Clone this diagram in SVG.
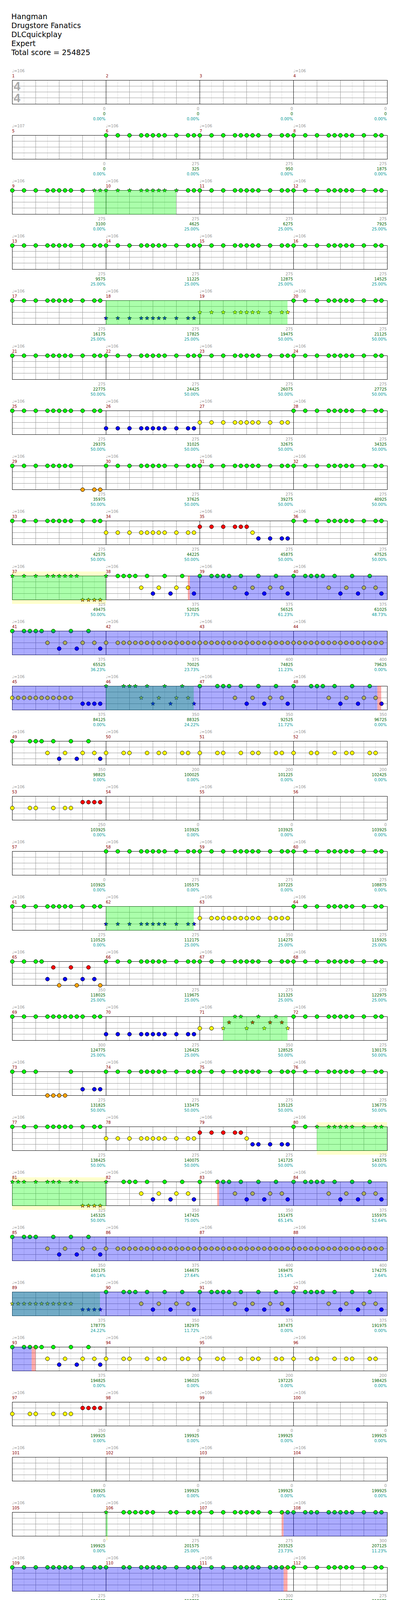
<svg xmlns="http://www.w3.org/2000/svg" width="1024" height="4858" viewBox="0 0 1024 4858">
<style>
text{font-family:"DejaVu Sans","Liberation Sans",sans-serif}
.h{font-size:19px;fill:#000}
.tp{font-size:10px;fill:#999}
.mn{font-size:10px;fill:#8b0000}
.s1,.s2,.s3{font-size:10px;text-anchor:end}
.s1{fill:#999}.s2{fill:#006400}.s3{fill:#009999}
.ts{font-family:"Liberation Sans",sans-serif;font-weight:bold;font-size:31px;fill:#aaa}
circle{stroke:#000;stroke-width:1}
.stp{stroke:#000;stroke-width:0.8}
.g{fill:#00ff00}.r{fill:#ff0000}.y{fill:#ffff00}.b{fill:#0000ff}.o{fill:#ffa500}
.lt{stroke:#ddd;fill:none}
.gr{stroke:#999;fill:none}
.bk{stroke:#000;fill:none}
.sp{fill:#00ff00;fill-opacity:.33}
.act{fill:#0000ff;fill-opacity:.33}
.pk{fill:#ff0000;fill-opacity:.33}
.yl{fill:#ffffcc}
</style>
<defs>
<g id="grid4">
<rect width="960" height="61" fill="#fff"/>
<path class="lt" d="M30,0V61M90,0V61M150,0V61M210,0V61M270,0V61M330,0V61M390,0V61M450,0V61M510,0V61M570,0V61M630,0V61M690,0V61M750,0V61M810,0V61M870,0V61M930,0V61"/>
<path class="gr" d="M0,15H960M0,30H960M0,45H960M60,0V61M120,0V61M180,0V61M300,0V61M360,0V61M420,0V61M540,0V61M600,0V61M660,0V61M780,0V61M840,0V61M900,0V61"/>
<path class="bk" d="M240,0V61M480,0V61M720,0V61"/>
<rect class="bk" width="960" height="61"/>
</g>
<g id="grid1">
<rect width="240" height="61" fill="#fff"/>
<path class="lt" d="M30,0V61M90,0V61M150,0V61M210,0V61"/>
<path class="gr" d="M0,15H240M0,30H240M0,45H240M60,0V61M120,0V61M180,0V61"/>
<rect class="bk" width="240" height="61"/>
</g>
<path id="st" class="stp" d="M0,-5.5L1.41,-1.94L5.23,-1.7L2.28,0.74L3.23,4.45L0,2.4L-3.23,4.45L-2.28,0.74L-5.23,-1.7L-1.41,-1.94Z"/>
<g id="S"><circle r="5"/><circle cx="30" r="5"/><circle cx="60" r="5"/><circle cx="90" r="5"/><circle cx="105" r="5"/><circle cx="120" r="5"/><circle cx="135" r="5"/><circle cx="150" r="5"/><circle cx="180" r="5"/><circle cx="210" r="5"/><circle cx="225" r="5"/></g>
<g id="SS"><use href="#st"/><use href="#st" x="30"/><use href="#st" x="60"/><use href="#st" x="90"/><use href="#st" x="105"/><use href="#st" x="120"/><use href="#st" x="135"/><use href="#st" x="150"/><use href="#st" x="180"/><use href="#st" x="210"/><use href="#st" x="225"/></g>
<g id="S12"><circle r="5"/><circle cx="30" r="5"/><circle cx="60" r="5"/><circle cx="90" r="5"/><circle cx="105" r="5"/><circle cx="120" r="5"/><circle cx="135" r="5"/><circle cx="150" r="5"/><circle cx="165" r="5"/><circle cx="180" r="5"/><circle cx="210" r="5"/><circle cx="225" r="5"/></g>
<g id="S12b"><circle r="5"/><circle cx="30" r="5"/><circle cx="45" r="5"/><circle cx="60" r="5"/><circle cx="90" r="5"/><circle cx="105" r="5"/><circle cx="120" r="5"/><circle cx="135" r="5"/><circle cx="150" r="5"/><circle cx="180" r="5"/><circle cx="210" r="5"/><circle cx="225" r="5"/></g>
<g id="A16" class="y"><circle cy="30" r="5"/><circle cx="15" cy="30" r="5"/><circle cx="30" cy="30" r="5"/><circle cx="45" cy="30" r="5"/><circle cx="60" cy="30" r="5"/><circle cx="75" cy="30" r="5"/><circle cx="90" cy="30" r="5"/><circle cx="105" cy="30" r="5"/><circle cx="120" cy="30" r="5"/><circle cx="135" cy="30" r="5"/><circle cx="150" cy="30" r="5"/><circle cx="165" cy="30" r="5"/><circle cx="180" cy="30" r="5"/><circle cx="195" cy="30" r="5"/><circle cx="210" cy="30" r="5"/><circle cx="225" cy="30" r="5"/></g>
<g id="A15" class="y"><circle cy="30" r="5"/><circle cx="30" cy="30" r="5"/><circle cx="45" cy="30" r="5"/><circle cx="60" cy="30" r="5"/><circle cx="75" cy="30" r="5"/><circle cx="90" cy="30" r="5"/><circle cx="105" cy="30" r="5"/><circle cx="120" cy="30" r="5"/><circle cx="135" cy="30" r="5"/><circle cx="150" cy="30" r="5"/><circle cx="165" cy="30" r="5"/><circle cx="180" cy="30" r="5"/><circle cx="195" cy="30" r="5"/><circle cx="210" cy="30" r="5"/><circle cx="225" cy="30" r="5"/></g>
<g id="Y8" class="y"><circle cy="30" r="5"/><circle cx="45" cy="30" r="5"/><circle cx="60" cy="30" r="5"/><circle cx="105" cy="30" r="5"/><circle cx="135" cy="30" r="5"/><circle cx="150" cy="30" r="5"/><circle cx="195" cy="30" r="5"/><circle cx="210" cy="30" r="5"/></g>
<g id="YB"><g class="y"><circle cx="90" cy="30" r="5"/><circle cx="135" cy="30" r="5"/><circle cx="180" cy="30" r="5"/><circle cx="210" cy="30" r="5"/></g><g class="b"><circle cx="120" cy="45" r="5"/><circle cx="165" cy="45" r="5"/><circle cx="225" cy="45" r="5"/></g></g>
<g id="G7" class="g"><circle cx="45" r="5"/><circle cx="60" r="5"/><circle cx="75" r="5"/><circle cx="105" r="5"/><circle cx="150" r="5"/><circle cx="195" r="5"/></g>
<g id="Q"><circle class="g" r="5"/><circle class="g" cx="30" r="5"/><use href="#G7"/><use href="#YB"/></g>
<g id="R"><circle class="g" r="5"/><use href="#G7"/><use href="#YB"/></g>
<g id="YR"><g class="y"><circle cy="30" r="5"/><circle cx="45" cy="30" r="5"/><circle cx="60" cy="30" r="5"/><circle cx="105" cy="30" r="5"/><circle cx="135" cy="30" r="5"/><circle cx="150" cy="30" r="5"/></g><g class="r"><circle cx="180" cy="15" r="5"/><circle cx="195" cy="15" r="5"/><circle cx="210" cy="15" r="5"/><circle cx="225" cy="15" r="5"/></g></g>
</defs>
<rect width="1024" height="4858" fill="#fff"/>
<g id="header">
<text class="h" x="29" y="49">Hangman</text>
<text class="h" x="29" y="72">Drugstore Fanatics</text>
<text class="h" x="29" y="95">DLCquickplay</text>
<text class="h" x="29" y="118">Expert</text>
<text class="h" x="29" y="141">Total score = 254825</text>
</g>
<g id="connectors"/>

<g id="row01" transform="translate(31,205)">
<g transform="translate(.5,.5)"><use href="#grid4"/></g>
<text class="ts" x="4" y="27">4</text><text class="ts" x="4" y="57">4</text>
<g class="tp"><text x="0" y="-20">♩=106</text><text x="720" y="-20">♩=106</text></g>
<g class="mn"><text x="0" y="-7">1</text><text x="240" y="-7">2</text><text x="480" y="-7">3</text><text x="720" y="-7">4</text></g>
<g class="s1"><text x="239" y="77">0</text><text x="479" y="77">0</text><text x="719" y="77">0</text><text x="959" y="77">0</text></g>
<g class="s2"><text x="239" y="90">0</text><text x="479" y="90">0</text><text x="719" y="90">0</text><text x="959" y="90">0</text></g>
<g class="s3"><text x="239" y="103">0.00%</text><text x="479" y="103">0.00%</text><text x="719" y="103">0.00%</text><text x="959" y="103">0.00%</text></g>
</g>

<g id="row02" transform="translate(31,346)">
<g transform="translate(.5,.5)"><use href="#grid4"/>
<use href="#S" class="g" x="240"/><use href="#S" class="g" x="480"/><use href="#S" class="g" x="720"/></g>
<g class="tp"><text x="0" y="-20">♩=107</text><text x="240" y="-20">♩=106</text><text x="480" y="-20">♩=106</text><text x="720" y="-20">♩=106</text></g>
<g class="mn"><text x="0" y="-7">5</text><text x="240" y="-7">6</text><text x="480" y="-7">7</text><text x="720" y="-7">8</text></g>
<g class="s1"><text x="239" y="77">0</text><text x="479" y="77">275</text><text x="719" y="77">275</text><text x="959" y="77">275</text></g>
<g class="s2"><text x="239" y="90">0</text><text x="479" y="90">325</text><text x="719" y="90">950</text><text x="959" y="90">1875</text></g>
<g class="s3"><text x="239" y="103">0.00%</text><text x="479" y="103">0.00%</text><text x="719" y="103">0.00%</text><text x="959" y="103">0.00%</text></g>
</g>

<g id="row03" transform="translate(31,487)">
<g transform="translate(.5,.5)"><use href="#grid4"/>
<g class="g"><circle r="5"/><circle cx="30" r="5"/><circle cx="60" r="5"/><circle cx="90" r="5"/><circle cx="105" r="5"/><circle cx="120" r="5"/><circle cx="135" r="5"/><circle cx="150" r="5"/><circle cx="180" r="5"/><use href="#st" x="210"/><use href="#st" x="225"/>
<use href="#st" x="240"/><use href="#st" x="270"/><use href="#st" x="300"/><use href="#st" x="330"/><use href="#st" x="345"/><use href="#st" x="360"/><use href="#st" x="375"/><use href="#st" x="390"/><use href="#st" x="420"/><circle cx="450" r="5"/><circle cx="465" r="5"/></g>
<use href="#S" class="g" x="480"/><use href="#S" class="g" x="720"/></g>
<rect class="sp" x="210" width="210" height="62"/>
<g class="tp"><text x="0" y="-20">♩=106</text><text x="240" y="-20">♩=106</text><text x="480" y="-20">♩=106</text><text x="720" y="-20">♩=106</text></g>
<g class="mn"><text x="0" y="-7">9</text><text x="240" y="-7">10</text><text x="480" y="-7">11</text><text x="720" y="-7">12</text></g>
<g class="s1"><text x="239" y="77">275</text><text x="479" y="77">275</text><text x="719" y="77">275</text><text x="959" y="77">275</text></g>
<g class="s2"><text x="239" y="90">3100</text><text x="479" y="90">4625</text><text x="719" y="90">6275</text><text x="959" y="90">7925</text></g>
<g class="s3"><text x="239" y="103">0.00%</text><text x="479" y="103">25.00%</text><text x="719" y="103">25.00%</text><text x="959" y="103">25.00%</text></g>
</g>

<g id="row04" transform="translate(31,628)">
<g transform="translate(.5,.5)"><use href="#grid4"/>
<use href="#S" class="g"/><use href="#S" class="g" x="240"/><use href="#S" class="g" x="480"/><use href="#S" class="g" x="720"/></g>
<g class="tp"><text x="0" y="-20">♩=106</text><text x="240" y="-20">♩=106</text><text x="480" y="-20">♩=106</text><text x="720" y="-20">♩=106</text></g>
<g class="mn"><text x="0" y="-7">13</text><text x="240" y="-7">14</text><text x="480" y="-7">15</text><text x="720" y="-7">16</text></g>
<g class="s1"><text x="239" y="77">275</text><text x="479" y="77">275</text><text x="719" y="77">275</text><text x="959" y="77">275</text></g>
<g class="s2"><text x="239" y="90">9575</text><text x="479" y="90">11225</text><text x="719" y="90">12875</text><text x="959" y="90">14525</text></g>
<g class="s3"><text x="239" y="103">25.00%</text><text x="479" y="103">25.00%</text><text x="719" y="103">25.00%</text><text x="959" y="103">25.00%</text></g>
</g>

<g id="row05" transform="translate(31,769)">
<g transform="translate(.5,.5)"><use href="#grid4"/>
<use href="#S" class="g"/><use href="#SS" class="b" x="240" y="45"/><use href="#SS" class="y" x="480" y="30"/><use href="#S" class="g" x="720"/></g>
<rect class="sp" x="240" width="465" height="62"/>
<g class="tp"><text x="0" y="-20">♩=106</text><text x="240" y="-20">♩=106</text><text x="480" y="-20">♩=106</text><text x="720" y="-20">♩=106</text></g>
<g class="mn"><text x="0" y="-7">17</text><text x="240" y="-7">18</text><text x="480" y="-7">19</text><text x="720" y="-7">20</text></g>
<g class="s1"><text x="239" y="77">275</text><text x="479" y="77">275</text><text x="719" y="77">275</text><text x="959" y="77">275</text></g>
<g class="s2"><text x="239" y="90">16175</text><text x="479" y="90">17825</text><text x="719" y="90">19475</text><text x="959" y="90">21125</text></g>
<g class="s3"><text x="239" y="103">25.00%</text><text x="479" y="103">25.00%</text><text x="719" y="103">50.00%</text><text x="959" y="103">50.00%</text></g>
</g>

<g id="row06" transform="translate(31,910)">
<g transform="translate(.5,.5)"><use href="#grid4"/>
<use href="#S" class="g"/><use href="#S" class="g" x="240"/><use href="#S" class="g" x="480"/><use href="#S" class="g" x="720"/></g>
<g class="tp"><text x="0" y="-20">♩=106</text><text x="240" y="-20">♩=106</text><text x="480" y="-20">♩=106</text><text x="720" y="-20">♩=106</text></g>
<g class="mn"><text x="0" y="-7">21</text><text x="240" y="-7">22</text><text x="480" y="-7">23</text><text x="720" y="-7">24</text></g>
<g class="s1"><text x="239" y="77">275</text><text x="479" y="77">275</text><text x="719" y="77">275</text><text x="959" y="77">275</text></g>
<g class="s2"><text x="239" y="90">22775</text><text x="479" y="90">24425</text><text x="719" y="90">26075</text><text x="959" y="90">27725</text></g>
<g class="s3"><text x="239" y="103">50.00%</text><text x="479" y="103">50.00%</text><text x="719" y="103">50.00%</text><text x="959" y="103">50.00%</text></g>
</g>

<g id="row07" transform="translate(31,1051)">
<g transform="translate(.5,.5)"><use href="#grid4"/>
<use href="#S" class="g"/><use href="#S" class="b" x="240" y="45"/><use href="#S" class="y" x="480" y="30"/><use href="#S" class="g" x="720"/></g>
<g class="tp"><text x="0" y="-20">♩=106</text><text x="240" y="-20">♩=106</text><text x="480" y="-20">♩=106</text><text x="720" y="-20">♩=106</text></g>
<g class="mn"><text x="0" y="-7">25</text><text x="240" y="-7">26</text><text x="480" y="-7">27</text><text x="720" y="-7">28</text></g>
<g class="s1"><text x="239" y="77">275</text><text x="479" y="77">275</text><text x="719" y="77">275</text><text x="959" y="77">275</text></g>
<g class="s2"><text x="239" y="90">29375</text><text x="479" y="90">31025</text><text x="719" y="90">32675</text><text x="959" y="90">34325</text></g>
<g class="s3"><text x="239" y="103">50.00%</text><text x="479" y="103">50.00%</text><text x="719" y="103">50.00%</text><text x="959" y="103">50.00%</text></g>
</g>

<g id="row08" transform="translate(31,1192)">
<g transform="translate(.5,.5)"><use href="#grid4"/>
<g class="g"><circle r="5"/><circle cx="30" r="5"/><circle cx="60" r="5"/><circle cx="90" r="5"/><circle cx="105" r="5"/><circle cx="120" r="5"/><circle cx="135" r="5"/><circle cx="150" r="5"/></g>
<g class="o"><circle cx="180" cy="61" r="5"/><circle cx="210" cy="61" r="5"/><circle cx="225" cy="61" r="5"/></g>
<use href="#S" class="g" x="240"/><use href="#S" class="g" x="480"/><use href="#S" class="g" x="720"/></g>
<g class="tp"><text x="0" y="-20">♩=106</text><text x="240" y="-20">♩=106</text><text x="480" y="-20">♩=106</text><text x="720" y="-20">♩=106</text></g>
<g class="mn"><text x="0" y="-7">29</text><text x="240" y="-7">30</text><text x="480" y="-7">31</text><text x="720" y="-7">32</text></g>
<g class="s1"><text x="239" y="77">275</text><text x="479" y="77">275</text><text x="719" y="77">275</text><text x="959" y="77">275</text></g>
<g class="s2"><text x="239" y="90">35975</text><text x="479" y="90">37625</text><text x="719" y="90">39275</text><text x="959" y="90">40925</text></g>
<g class="s3"><text x="239" y="103">50.00%</text><text x="479" y="103">50.00%</text><text x="719" y="103">50.00%</text><text x="959" y="103">50.00%</text></g>
</g>

<g id="row09" transform="translate(31,1333)">
<g transform="translate(.5,.5)"><use href="#grid4"/>
<use href="#S" class="g"/><use href="#S" class="y" x="240" y="30"/>
<g class="r"><circle cx="480" cy="15" r="5"/><circle cx="510" cy="15" r="5"/><circle cx="540" cy="15" r="5"/><circle cx="570" cy="15" r="5"/><circle cx="585" cy="15" r="5"/><circle cx="600" cy="15" r="5"/></g>
<circle class="y" cx="615" cy="30" r="5"/>
<g class="b"><circle cx="630" cy="45" r="5"/><circle cx="660" cy="45" r="5"/><circle cx="690" cy="45" r="5"/><circle cx="705" cy="45" r="5"/></g>
<use href="#S" class="g" x="720"/></g>
<g class="tp"><text x="0" y="-20">♩=106</text><text x="240" y="-20">♩=106</text><text x="480" y="-20">♩=106</text><text x="720" y="-20">♩=106</text></g>
<g class="mn"><text x="0" y="-7">33</text><text x="240" y="-7">34</text><text x="480" y="-7">35</text><text x="720" y="-7">36</text></g>
<g class="s1"><text x="239" y="77">275</text><text x="479" y="77">275</text><text x="719" y="77">275</text><text x="959" y="77">275</text></g>
<g class="s2"><text x="239" y="90">42575</text><text x="479" y="90">44225</text><text x="719" y="90">45875</text><text x="959" y="90">47525</text></g>
<g class="s3"><text x="239" y="103">50.00%</text><text x="479" y="103">50.00%</text><text x="719" y="103">50.00%</text><text x="959" y="103">50.00%</text></g>
</g>

<g id="row10" transform="translate(31,1474)">
<rect class="yl" y="-11" width="240" height="83"/>
<g transform="translate(.5,.5)"><use href="#grid4"/>
<g class="g"><use href="#st"/><use href="#st" x="30"/><use href="#st" x="60"/><use href="#st" x="90"/><use href="#st" x="105"/><use href="#st" x="120"/><use href="#st" x="135"/><use href="#st" x="150"/><use href="#st" x="165"/><use href="#st" x="240"/><circle cx="270" r="5"/></g>
<g class="o"><use href="#st" x="180" y="61"/><use href="#st" x="195" y="61"/><use href="#st" x="210" y="61"/><use href="#st" x="225" y="61"/></g>
<use href="#G7" x="240"/><use href="#YB" x="240"/><use href="#Q" x="480"/><use href="#Q" x="720"/></g>
<rect class="sp" width="240" height="62"/>
<rect class="pk" x="450" width="5" height="62"/>
<rect class="act" x="455" width="505" height="62"/>
<g class="tp"><text x="0" y="-20">♩=106</text><text x="240" y="-20">♩=106</text><text x="480" y="-20">♩=106</text><text x="720" y="-20">♩=106</text></g>
<g class="mn"><text x="0" y="-7">37</text><text x="240" y="-7">38</text><text x="480" y="-7">39</text><text x="720" y="-7">40</text></g>
<g class="s1"><text x="239" y="77">325</text><text x="479" y="77">375</text><text x="719" y="77">375</text><text x="959" y="77">375</text></g>
<g class="s2"><text x="239" y="90">49475</text><text x="479" y="90">52025</text><text x="719" y="90">56525</text><text x="959" y="90">61025</text></g>
<g class="s3"><text x="239" y="103">50.00%</text><text x="479" y="103">73.73%</text><text x="719" y="103">61.23%</text><text x="959" y="103">48.73%</text></g>
</g>

<g id="row11" transform="translate(31,1615)">
<g transform="translate(.5,.5)"><use href="#grid4"/>
<use href="#Q"/><use href="#A15" x="240"/><use href="#A16" x="480"/><use href="#A16" x="720"/></g>
<rect class="act" width="960" height="62"/>
<g class="tp"><text x="0" y="-20">♩=106</text><text x="240" y="-20">♩=106</text><text x="480" y="-20">♩=106</text><text x="720" y="-20">♩=106</text></g>
<g class="mn"><text x="0" y="-7">41</text><text x="240" y="-7">42</text><text x="480" y="-7">43</text><text x="720" y="-7">44</text></g>
<g class="s1"><text x="239" y="77">375</text><text x="479" y="77">375</text><text x="719" y="77">400</text><text x="959" y="77">400</text></g>
<g class="s2"><text x="239" y="90">65525</text><text x="479" y="90">70025</text><text x="719" y="90">74825</text><text x="959" y="90">79625</text></g>
<g class="s3"><text x="239" y="103">36.23%</text><text x="479" y="103">23.73%</text><text x="719" y="103">11.23%</text><text x="959" y="103">0.00%</text></g>
</g>

<g id="row12" transform="translate(31,1756)">
<g transform="translate(.5,.5)"><use href="#grid4"/>
<g class="y"><circle cy="30" r="5"/><circle cx="15" cy="30" r="5"/><circle cx="30" cy="30" r="5"/><circle cx="45" cy="30" r="5"/><circle cx="60" cy="30" r="5"/><circle cx="75" cy="30" r="5"/><circle cx="90" cy="30" r="5"/><circle cx="105" cy="30" r="5"/><circle cx="120" cy="30" r="5"/><circle cx="135" cy="30" r="5"/><circle cx="150" cy="30" r="5"/></g>
<g class="b"><circle cx="180" cy="45" r="5"/><circle cx="195" cy="45" r="5"/><circle cx="210" cy="45" r="5"/><circle cx="225" cy="45" r="5"/></g>
<g class="g"><use href="#st" x="240"/><use href="#st" x="285"/><use href="#st" x="300"/><use href="#st" x="315"/><use href="#st" x="345"/><use href="#st" x="390"/><use href="#st" x="435"/></g>
<g class="y"><use href="#st" x="330" y="30"/><use href="#st" x="375" y="30"/><use href="#st" x="420" y="30"/><use href="#st" x="450" y="30"/></g>
<g class="b"><use href="#st" x="360" y="45"/><use href="#st" x="405" y="45"/><use href="#st" x="465" y="45"/></g>
<use href="#R" x="480"/><use href="#R" x="720"/></g>
<rect class="sp" x="240" width="225" height="62"/>
<rect class="act" width="935" height="62"/>
<rect class="pk" x="935" width="10" height="62"/>
<g class="tp"><text x="0" y="-20">♩=106</text><text x="240" y="-20">♩=106</text><text x="480" y="-20">♩=106</text><text x="720" y="-20">♩=106</text></g>
<g class="mn"><text x="0" y="-7">45</text><text x="240" y="-7">46</text><text x="480" y="-7">47</text><text x="720" y="-7">48</text></g>
<g class="s1"><text x="239" y="77">375</text><text x="479" y="77">350</text><text x="719" y="77">350</text><text x="959" y="77">350</text></g>
<g class="s2"><text x="239" y="90">84125</text><text x="479" y="90">88325</text><text x="719" y="90">92525</text><text x="959" y="90">96725</text></g>
<g class="s3"><text x="239" y="103">0.00%</text><text x="479" y="103">24.22%</text><text x="719" y="103">11.72%</text><text x="959" y="103">0.00%</text></g>
</g>

<g id="row13" transform="translate(31,1897)">
<g transform="translate(.5,.5)"><use href="#grid4"/>
<use href="#R"/><use href="#Y8" x="240"/><use href="#Y8" x="480"/><use href="#Y8" x="720"/></g>
<g class="tp"><text x="0" y="-20">♩=106</text><text x="240" y="-20">♩=106</text><text x="480" y="-20">♩=106</text><text x="720" y="-20">♩=106</text></g>
<g class="mn"><text x="0" y="-7">49</text><text x="240" y="-7">50</text><text x="480" y="-7">51</text><text x="720" y="-7">52</text></g>
<g class="s1"><text x="239" y="77">350</text><text x="479" y="77">200</text><text x="719" y="77">200</text><text x="959" y="77">200</text></g>
<g class="s2"><text x="239" y="90">98825</text><text x="479" y="90">100025</text><text x="719" y="90">101225</text><text x="959" y="90">102425</text></g>
<g class="s3"><text x="239" y="103">0.00%</text><text x="479" y="103">0.00%</text><text x="719" y="103">0.00%</text><text x="959" y="103">0.00%</text></g>
</g>

<g id="row14" transform="translate(31,2038)">
<g transform="translate(.5,.5)"><use href="#grid4"/>
<use href="#YR"/></g>
<g class="tp"><text x="0" y="-20">♩=106</text><text x="240" y="-20">♩=106</text><text x="480" y="-20">♩=106</text><text x="720" y="-20">♩=106</text></g>
<g class="mn"><text x="0" y="-7">53</text><text x="240" y="-7">54</text><text x="480" y="-7">55</text><text x="720" y="-7">56</text></g>
<g class="s1"><text x="239" y="77">250</text><text x="479" y="77">0</text><text x="719" y="77">0</text><text x="959" y="77">0</text></g>
<g class="s2"><text x="239" y="90">103925</text><text x="479" y="90">103925</text><text x="719" y="90">103925</text><text x="959" y="90">103925</text></g>
<g class="s3"><text x="239" y="103">0.00%</text><text x="479" y="103">0.00%</text><text x="719" y="103">0.00%</text><text x="959" y="103">0.00%</text></g>
</g>

<g id="row15" transform="translate(31,2179)">
<g transform="translate(.5,.5)"><use href="#grid4"/>
<use href="#S" class="g" x="240"/><use href="#S" class="g" x="480"/><use href="#S" class="g" x="720"/></g>
<g class="tp"><text x="0" y="-20">♩=106</text><text x="240" y="-20">♩=106</text><text x="480" y="-20">♩=106</text><text x="720" y="-20">♩=106</text></g>
<g class="mn"><text x="0" y="-7">57</text><text x="240" y="-7">58</text><text x="480" y="-7">59</text><text x="720" y="-7">60</text></g>
<g class="s1"><text x="239" y="77">0</text><text x="479" y="77">275</text><text x="719" y="77">275</text><text x="959" y="77">275</text></g>
<g class="s2"><text x="239" y="90">103925</text><text x="479" y="90">105575</text><text x="719" y="90">107225</text><text x="959" y="90">108875</text></g>
<g class="s3"><text x="239" y="103">0.00%</text><text x="479" y="103">0.00%</text><text x="719" y="103">0.00%</text><text x="959" y="103">0.00%</text></g>
</g>

<g id="row16" transform="translate(31,2320)">
<g transform="translate(.5,.5)"><use href="#grid4"/>
<use href="#S" class="g"/><use href="#SS" class="b" x="240" y="45"/>
<g class="y"><circle cx="480" cy="30" r="5"/><circle cx="510" cy="30" r="5"/><circle cx="525" cy="30" r="5"/><circle cx="540" cy="30" r="5"/><circle cx="555" cy="30" r="5"/><circle cx="570" cy="30" r="5"/><circle cx="585" cy="30" r="5"/><circle cx="600" cy="30" r="5"/><circle cx="615" cy="30" r="5"/><circle cx="630" cy="30" r="5"/><circle cx="660" cy="30" r="5"/><circle cx="675" cy="30" r="5"/><circle cx="690" cy="30" r="5"/><circle cx="705" cy="30" r="5"/></g>
<use href="#S" class="g" x="720"/></g>
<rect class="sp" x="240" width="225" height="62"/>
<g class="tp"><text x="0" y="-20">♩=106</text><text x="240" y="-20">♩=106</text><text x="480" y="-20">♩=106</text><text x="720" y="-20">♩=106</text></g>
<g class="mn"><text x="0" y="-7">61</text><text x="240" y="-7">62</text><text x="480" y="-7">63</text><text x="720" y="-7">64</text></g>
<g class="s1"><text x="239" y="77">275</text><text x="479" y="77">275</text><text x="719" y="77">350</text><text x="959" y="77">275</text></g>
<g class="s2"><text x="239" y="90">110525</text><text x="479" y="90">112175</text><text x="719" y="90">114275</text><text x="959" y="90">115925</text></g>
<g class="s3"><text x="239" y="103">0.00%</text><text x="479" y="103">25.00%</text><text x="719" y="103">25.00%</text><text x="959" y="103">25.00%</text></g>
</g>

<g id="row17" transform="translate(31,2461)">
<g transform="translate(.5,.5)"><use href="#grid4"/>
<g class="g"><circle r="5"/><circle cx="30" r="5"/><circle cx="60" r="5"/><circle cx="75" r="5"/></g>
<g class="b"><circle cx="90" cy="45" r="5"/><circle cx="135" cy="45" r="5"/><circle cx="180" cy="45" r="5"/><circle cx="210" cy="45" r="5"/></g>
<g class="r"><circle cx="105" cy="15" r="5"/><circle cx="150" cy="15" r="5"/><circle cx="195" cy="15" r="5"/></g>
<g class="o"><circle cx="120" cy="61" r="5"/><circle cx="165" cy="61" r="5"/><circle cx="225" cy="61" r="5"/></g>
<use href="#S" class="g" x="240"/><use href="#S" class="g" x="480"/><use href="#S" class="g" x="720"/></g>
<g class="tp"><text x="0" y="-20">♩=106</text><text x="240" y="-20">♩=106</text><text x="480" y="-20">♩=106</text><text x="720" y="-20">♩=106</text></g>
<g class="mn"><text x="0" y="-7">65</text><text x="240" y="-7">66</text><text x="480" y="-7">67</text><text x="720" y="-7">68</text></g>
<g class="s1"><text x="239" y="77">350</text><text x="479" y="77">275</text><text x="719" y="77">275</text><text x="959" y="77">275</text></g>
<g class="s2"><text x="239" y="90">118025</text><text x="479" y="90">119675</text><text x="719" y="90">121325</text><text x="959" y="90">122975</text></g>
<g class="s3"><text x="239" y="103">25.00%</text><text x="479" y="103">25.00%</text><text x="719" y="103">25.00%</text><text x="959" y="103">25.00%</text></g>
</g>

<g id="row18" transform="translate(31,2602)">
<g transform="translate(.5,.5)"><use href="#grid4"/>
<use href="#S12" class="g"/><use href="#S" class="b" x="240" y="45"/>
<g class="y"><circle cx="480" cy="30" r="5"/><circle cx="510" cy="30" r="5"/><use href="#st" x="540" y="30"/><use href="#st" x="600" y="30"/><use href="#st" x="645" y="30"/><use href="#st" x="705" y="30"/></g>
<g class="r"><use href="#st" x="555" y="15"/><use href="#st" x="615" y="15"/><use href="#st" x="660" y="15"/><use href="#st" x="690" y="15"/></g>
<g class="g"><use href="#st" x="570"/><use href="#st" x="585"/><use href="#st" x="630"/><use href="#st" x="675"/></g>
<use href="#S" class="g" x="720"/></g>
<rect class="sp" x="540" width="165" height="62"/>
<g class="tp"><text x="0" y="-20">♩=106</text><text x="240" y="-20">♩=106</text><text x="480" y="-20">♩=106</text><text x="720" y="-20">♩=106</text></g>
<g class="mn"><text x="0" y="-7">69</text><text x="240" y="-7">70</text><text x="480" y="-7">71</text><text x="720" y="-7">72</text></g>
<g class="s1"><text x="239" y="77">300</text><text x="479" y="77">275</text><text x="719" y="77">350</text><text x="959" y="77">275</text></g>
<g class="s2"><text x="239" y="90">124775</text><text x="479" y="90">126425</text><text x="719" y="90">128525</text><text x="959" y="90">130175</text></g>
<g class="s3"><text x="239" y="103">25.00%</text><text x="479" y="103">25.00%</text><text x="719" y="103">50.00%</text><text x="959" y="103">50.00%</text></g>
</g>

<g id="row19" transform="translate(31,2743)">
<g transform="translate(.5,.5)"><use href="#grid4"/>
<g class="g"><circle r="5"/><circle cx="30" r="5"/><circle cx="60" r="5"/><circle cx="150" r="5"/></g>
<g class="o"><circle cx="90" cy="61" r="5"/><circle cx="105" cy="61" r="5"/><circle cx="120" cy="61" r="5"/><circle cx="135" cy="61" r="5"/></g>
<g class="b"><circle cx="180" cy="45" r="5"/><circle cx="210" cy="45" r="5"/><circle cx="225" cy="45" r="5"/></g>
<use href="#S" class="g" x="240"/><use href="#S" class="g" x="480"/><use href="#S" class="g" x="720"/></g>
<g class="tp"><text x="0" y="-20">♩=106</text><text x="240" y="-20">♩=106</text><text x="480" y="-20">♩=106</text><text x="720" y="-20">♩=106</text></g>
<g class="mn"><text x="0" y="-7">73</text><text x="240" y="-7">74</text><text x="480" y="-7">75</text><text x="720" y="-7">76</text></g>
<g class="s1"><text x="239" y="77">275</text><text x="479" y="77">275</text><text x="719" y="77">275</text><text x="959" y="77">275</text></g>
<g class="s2"><text x="239" y="90">131825</text><text x="479" y="90">133475</text><text x="719" y="90">135125</text><text x="959" y="90">136775</text></g>
<g class="s3"><text x="239" y="103">50.00%</text><text x="479" y="103">50.00%</text><text x="719" y="103">50.00%</text><text x="959" y="103">50.00%</text></g>
</g>

<g id="row20" transform="translate(31,2884)">
<rect class="yl" x="780" y="-11" width="180" height="83"/>
<g transform="translate(.5,.5)"><use href="#grid4"/>
<use href="#S" class="g"/><use href="#S" class="y" x="240" y="30"/>
<g class="r"><circle cx="480" cy="15" r="5"/><circle cx="510" cy="15" r="5"/><circle cx="540" cy="15" r="5"/><circle cx="570" cy="15" r="5"/><circle cx="585" cy="15" r="5"/></g>
<circle class="y" cx="600" cy="30" r="5"/>
<g class="b"><circle cx="615" cy="45" r="5"/><circle cx="630" cy="45" r="5"/><circle cx="660" cy="45" r="5"/><circle cx="690" cy="45" r="5"/><circle cx="705" cy="45" r="5"/></g>
<g class="g"><circle cx="720" r="5"/><circle cx="750" r="5"/><use href="#st" x="780"/><use href="#st" x="810"/><use href="#st" x="825"/><use href="#st" x="840"/><use href="#st" x="855"/><use href="#st" x="870"/><use href="#st" x="900"/><use href="#st" x="930"/><use href="#st" x="945"/></g></g>
<rect class="sp" x="780" width="180" height="62"/>
<g class="tp"><text x="0" y="-20">♩=106</text><text x="240" y="-20">♩=106</text><text x="480" y="-20">♩=106</text><text x="720" y="-20">♩=106</text></g>
<g class="mn"><text x="0" y="-7">77</text><text x="240" y="-7">78</text><text x="480" y="-7">79</text><text x="720" y="-7">80</text></g>
<g class="s1"><text x="239" y="77">275</text><text x="479" y="77">275</text><text x="719" y="77">275</text><text x="959" y="77">275</text></g>
<g class="s2"><text x="239" y="90">138425</text><text x="479" y="90">140075</text><text x="719" y="90">141725</text><text x="959" y="90">143375</text></g>
<g class="s3"><text x="239" y="103">50.00%</text><text x="479" y="103">50.00%</text><text x="719" y="103">50.00%</text><text x="959" y="103">50.00%</text></g>
</g>

<g id="row21" transform="translate(31,3025)">
<rect class="yl" y="-11" width="240" height="83"/>
<g transform="translate(.5,.5)"><use href="#grid4"/>
<g class="g"><use href="#st"/><use href="#st" x="15"/><use href="#st" x="30"/><use href="#st" x="60"/><use href="#st" x="90"/><use href="#st" x="105"/><use href="#st" x="120"/><use href="#st" x="150"/><use href="#st" x="165"/><use href="#st" x="240"/></g>
<g class="o"><use href="#st" x="180" y="61"/><use href="#st" x="195" y="61"/><use href="#st" x="210" y="61"/><use href="#st" x="225" y="61"/></g>
<use href="#G7" x="240"/><use href="#YB" x="240"/><use href="#R" x="480"/><use href="#Q" x="720"/></g>
<rect class="sp" width="240" height="62"/>
<rect class="pk" x="525" width="5" height="62"/>
<rect class="act" x="530" width="430" height="62"/>
<g class="tp"><text x="0" y="-20">♩=106</text><text x="240" y="-20">♩=106</text><text x="480" y="-20">♩=106</text><text x="720" y="-20">♩=106</text></g>
<g class="mn"><text x="0" y="-7">81</text><text x="240" y="-7">82</text><text x="480" y="-7">83</text><text x="720" y="-7">84</text></g>
<g class="s1"><text x="239" y="77">325</text><text x="479" y="77">350</text><text x="719" y="77">350</text><text x="959" y="77">375</text></g>
<g class="s2"><text x="239" y="90">145325</text><text x="479" y="90">147425</text><text x="719" y="90">151475</text><text x="959" y="90">155975</text></g>
<g class="s3"><text x="239" y="103">50.00%</text><text x="479" y="103">75.00%</text><text x="719" y="103">65.14%</text><text x="959" y="103">52.64%</text></g>
</g>

<g id="row22" transform="translate(31,3166)">
<g transform="translate(.5,.5)"><use href="#grid4"/>
<g class="g"><circle r="5"/><circle cx="30" r="5"/><circle cx="45" r="5"/><circle cx="60" r="5"/><circle cx="105" r="5"/><circle cx="150" r="5"/><circle cx="195" r="5"/></g><use href="#YB"/>
<use href="#A15" x="240"/><use href="#A16" x="480"/><use href="#A16" x="720"/></g>
<rect class="act" width="960" height="62"/>
<g class="tp"><text x="0" y="-20">♩=106</text><text x="240" y="-20">♩=106</text><text x="480" y="-20">♩=106</text><text x="720" y="-20">♩=106</text></g>
<g class="mn"><text x="0" y="-7">85</text><text x="240" y="-7">86</text><text x="480" y="-7">87</text><text x="720" y="-7">88</text></g>
<g class="s1"><text x="239" y="77">350</text><text x="479" y="77">375</text><text x="719" y="77">400</text><text x="959" y="77">400</text></g>
<g class="s2"><text x="239" y="90">160175</text><text x="479" y="90">164675</text><text x="719" y="90">169475</text><text x="959" y="90">174275</text></g>
<g class="s3"><text x="239" y="103">40.14%</text><text x="479" y="103">27.64%</text><text x="719" y="103">15.14%</text><text x="959" y="103">2.64%</text></g>
</g>

<g id="row23" transform="translate(31,3307)">
<g transform="translate(.5,.5)"><use href="#grid4"/>
<g class="y"><use href="#st" y="30"/><use href="#st" x="15" y="30"/><use href="#st" x="30" y="30"/><use href="#st" x="45" y="30"/><use href="#st" x="60" y="30"/><use href="#st" x="75" y="30"/><use href="#st" x="90" y="30"/><use href="#st" x="105" y="30"/><use href="#st" x="120" y="30"/><use href="#st" x="135" y="30"/><use href="#st" x="150" y="30"/></g>
<g class="b"><use href="#st" x="180" y="45"/><use href="#st" x="195" y="45"/><use href="#st" x="210" y="45"/><use href="#st" x="225" y="45"/></g>
<use href="#R" x="240"/><use href="#Q" x="480"/><use href="#Q" x="720"/></g>
<rect class="sp" width="225" height="62"/>
<rect class="act" width="960" height="62"/>
<g class="tp"><text x="0" y="-20">♩=106</text><text x="240" y="-20">♩=106</text><text x="480" y="-20">♩=106</text><text x="720" y="-20">♩=106</text></g>
<g class="mn"><text x="0" y="-7">89</text><text x="240" y="-7">90</text><text x="480" y="-7">91</text><text x="720" y="-7">92</text></g>
<g class="s1"><text x="239" y="77">375</text><text x="479" y="77">350</text><text x="719" y="77">375</text><text x="959" y="77">375</text></g>
<g class="s2"><text x="239" y="90">178775</text><text x="479" y="90">182975</text><text x="719" y="90">187475</text><text x="959" y="90">191975</text></g>
<g class="s3"><text x="239" y="103">24.22%</text><text x="479" y="103">11.72%</text><text x="719" y="103">0.00%</text><text x="959" y="103">0.00%</text></g>
</g>

<g id="row24" transform="translate(31,3448)">
<g transform="translate(.5,.5)"><use href="#grid4"/>
<use href="#Q"/><use href="#Y8" x="240"/><use href="#Y8" x="480"/><use href="#Y8" x="720"/></g>
<rect class="act" width="50" height="62"/>
<rect class="pk" x="50" width="10" height="62"/>
<g class="tp"><text x="0" y="-20">♩=106</text><text x="240" y="-20">♩=106</text><text x="480" y="-20">♩=106</text><text x="720" y="-20">♩=106</text></g>
<g class="mn"><text x="0" y="-7">93</text><text x="240" y="-7">94</text><text x="480" y="-7">95</text><text x="720" y="-7">96</text></g>
<g class="s1"><text x="239" y="77">375</text><text x="479" y="77">200</text><text x="719" y="77">200</text><text x="959" y="77">200</text></g>
<g class="s2"><text x="239" y="90">194825</text><text x="479" y="90">196025</text><text x="719" y="90">197225</text><text x="959" y="90">198425</text></g>
<g class="s3"><text x="239" y="103">0.00%</text><text x="479" y="103">0.00%</text><text x="719" y="103">0.00%</text><text x="959" y="103">0.00%</text></g>
</g>

<g id="row25" transform="translate(31,3589)">
<g transform="translate(.5,.5)"><use href="#grid4"/>
<use href="#YR"/></g>
<g class="tp"><text x="0" y="-20">♩=106</text><text x="240" y="-20">♩=106</text><text x="480" y="-20">♩=106</text><text x="720" y="-20">♩=106</text></g>
<g class="mn"><text x="0" y="-7">97</text><text x="240" y="-7">98</text><text x="480" y="-7">99</text><text x="720" y="-7">100</text></g>
<g class="s1"><text x="239" y="77">250</text><text x="479" y="77">0</text><text x="719" y="77">0</text><text x="959" y="77">0</text></g>
<g class="s2"><text x="239" y="90">199925</text><text x="479" y="90">199925</text><text x="719" y="90">199925</text><text x="959" y="90">199925</text></g>
<g class="s3"><text x="239" y="103">0.00%</text><text x="479" y="103">0.00%</text><text x="719" y="103">0.00%</text><text x="959" y="103">0.00%</text></g>
</g>

<g id="row26" transform="translate(31,3730)">
<g transform="translate(.5,.5)"><use href="#grid4"/></g>
<g class="tp"><text x="0" y="-20">♩=106</text><text x="240" y="-20">♩=106</text><text x="480" y="-20">♩=106</text><text x="720" y="-20">♩=106</text></g>
<g class="mn"><text x="0" y="-7">101</text><text x="240" y="-7">102</text><text x="480" y="-7">103</text><text x="720" y="-7">104</text></g>
<g class="s1"><text x="239" y="77">0</text><text x="479" y="77">0</text><text x="719" y="77">0</text><text x="959" y="77">0</text></g>
<g class="s2"><text x="239" y="90">199925</text><text x="479" y="90">199925</text><text x="719" y="90">199925</text><text x="959" y="90">199925</text></g>
<g class="s3"><text x="239" y="103">0.00%</text><text x="479" y="103">0.00%</text><text x="719" y="103">0.00%</text><text x="959" y="103">0.00%</text></g>
</g>

<g id="row27" transform="translate(31,3871)">
<rect class="yl" x="240" y="-11" width="5" height="83"/>
<g transform="translate(.5,.5)"><use href="#grid4"/>
<g class="g"><use href="#st" x="240"/><circle cx="285" r="5"/><circle cx="300" r="5"/><circle cx="315" r="5"/><circle cx="330" r="5"/><circle cx="345" r="5"/><circle cx="360" r="5"/><circle cx="405" r="5"/><circle cx="420" r="5"/><circle cx="450" r="5"/><circle cx="465" r="5"/></g>
<use href="#S" class="g" x="480"/><use href="#S12b" class="g" x="720"/></g>
<rect class="sp" x="240" width="5" height="62"/>
<rect class="pk" x="690" width="5" height="62"/>
<rect class="act" x="695" width="265" height="62"/>
<g class="tp"><text x="0" y="-20">♩=106</text><text x="240" y="-20">♩=106</text><text x="480" y="-20">♩=106</text><text x="720" y="-20">♩=106</text></g>
<g class="mn"><text x="0" y="-7">105</text><text x="240" y="-7">106</text><text x="480" y="-7">107</text><text x="720" y="-7">108</text></g>
<g class="s1"><text x="239" y="77">0</text><text x="479" y="77">275</text><text x="719" y="77">275</text><text x="959" y="77">300</text></g>
<g class="s2"><text x="239" y="90">199925</text><text x="479" y="90">201575</text><text x="719" y="90">203525</text><text x="959" y="90">207125</text></g>
<g class="s3"><text x="239" y="103">0.00%</text><text x="479" y="103">25.00%</text><text x="719" y="103">23.73%</text><text x="959" y="103">11.23%</text></g>
</g>

<g id="row28" transform="translate(31,4012)">
<g transform="translate(.5,.5)"><use href="#grid4"/>
<use href="#S" class="g"/>
<g class="g"><circle cx="240" r="5"/><circle cx="285" r="5"/><circle cx="300" r="5"/><circle cx="330" r="5"/><circle cx="345" r="5"/><circle cx="360" r="5"/><circle cx="375" r="5"/><circle cx="390" r="5"/><circle cx="420" r="5"/><circle cx="450" r="5"/><circle cx="465" r="5"/>
<circle cx="480" r="5"/><circle cx="510" r="5"/><circle cx="540" r="5"/><circle cx="570" r="5"/><circle cx="585" r="5"/><circle cx="600" r="5"/><circle cx="615" r="5"/><circle cx="630" r="5"/><circle cx="660" r="5"/><circle cx="675" r="5"/><circle cx="690" r="5"/><circle cx="705" r="5"/></g>
<use href="#S" class="g" x="720"/></g>
<rect class="act" width="695" height="62"/>
<rect class="pk" x="695" width="10" height="62"/>
<g class="tp"><text x="0" y="-20">♩=106</text><text x="240" y="-20">♩=106</text><text x="480" y="-20">♩=106</text><text x="720" y="-20">♩=106</text></g>
<g class="mn"><text x="0" y="-7">109</text><text x="240" y="-7">110</text><text x="480" y="-7">111</text><text x="720" y="-7">112</text></g>
<g class="s1"><text x="239" y="77">275</text><text x="479" y="77">275</text><text x="719" y="77">300</text><text x="959" y="77">275</text></g>
<g class="s2"><text x="239" y="90">210425</text><text x="479" y="90">213725</text><text x="719" y="90">217325</text><text x="959" y="90">218975</text></g>
<g class="s3"><text x="239" y="103">0.00%</text><text x="479" y="103">0.00%</text><text x="719" y="103">0.00%</text><text x="959" y="103">0.00%</text></g>
</g>

<g id="row29" transform="translate(31,4153)">
<g transform="translate(.5,.5)"><use href="#grid4"/>
<use href="#S" class="g"/><use href="#S12b" class="g" x="240"/><use href="#S" class="g" x="480"/><use href="#S" class="g" x="720"/></g>
<g class="tp"><text x="0" y="-20">♩=106</text><text x="240" y="-20">♩=106</text><text x="480" y="-20">♩=106</text><text x="720" y="-20">♩=106</text></g>
<g class="mn"><text x="0" y="-7">113</text><text x="240" y="-7">114</text><text x="480" y="-7">115</text><text x="720" y="-7">116</text></g>
<g class="s1"><text x="239" y="77">275</text><text x="479" y="77">300</text><text x="719" y="77">275</text><text x="959" y="77">275</text></g>
<g class="s2"><text x="239" y="90">220625</text><text x="479" y="90">222425</text><text x="719" y="90">224075</text><text x="959" y="90">225725</text></g>
<g class="s3"><text x="239" y="103">0.00%</text><text x="479" y="103">0.00%</text><text x="719" y="103">0.00%</text><text x="959" y="103">0.00%</text></g>
</g>

<g id="row30" transform="translate(31,4294)">
<rect class="yl" y="-11" width="240" height="83"/>
<g transform="translate(.5,.5)"><use href="#grid4"/>
<use href="#SS" class="g"/>
<g class="g"><use href="#st" x="240"/><circle cx="270" r="5"/><circle cx="300" r="5"/><circle cx="330" r="5"/><circle cx="345" r="5"/><circle cx="360" r="5"/><circle cx="375" r="5"/><circle cx="390" r="5"/><circle cx="420" r="5"/><circle cx="450" r="5"/><circle cx="465" r="5"/></g>
<use href="#S" class="g" x="480"/><use href="#S" class="g" x="720"/></g>
<rect class="sp" width="240" height="62"/>
<g class="tp"><text x="0" y="-20">♩=106</text><text x="240" y="-20">♩=106</text><text x="480" y="-20">♩=106</text><text x="720" y="-20">♩=106</text></g>
<g class="mn"><text x="0" y="-7">117</text><text x="240" y="-7">118</text><text x="480" y="-7">119</text><text x="720" y="-7">120</text></g>
<g class="s1"><text x="239" y="77">275</text><text x="479" y="77">275</text><text x="719" y="77">275</text><text x="959" y="77">275</text></g>
<g class="s2"><text x="239" y="90">227375</text><text x="479" y="90">229025</text><text x="719" y="90">230675</text><text x="959" y="90">232325</text></g>
<g class="s3"><text x="239" y="103">0.00%</text><text x="479" y="103">25.00%</text><text x="719" y="103">25.00%</text><text x="959" y="103">25.00%</text></g>
</g>

<g id="row31" transform="translate(31,4435)">
<g transform="translate(.5,.5)"><use href="#grid4"/>
<use href="#S" class="g"/><use href="#S" class="g" x="240"/><use href="#S" class="g" x="480"/><use href="#S" class="g" x="720"/></g>
<g class="tp"><text x="0" y="-20">♩=106</text><text x="240" y="-20">♩=106</text><text x="480" y="-20">♩=106</text><text x="720" y="-20">♩=106</text></g>
<g class="mn"><text x="0" y="-7">121</text><text x="240" y="-7">122</text><text x="480" y="-7">123</text><text x="720" y="-7">124</text></g>
<g class="s1"><text x="239" y="77">275</text><text x="479" y="77">275</text><text x="719" y="77">275</text><text x="959" y="77">275</text></g>
<g class="s2"><text x="239" y="90">233975</text><text x="479" y="90">235625</text><text x="719" y="90">237275</text><text x="959" y="90">238925</text></g>
<g class="s3"><text x="239" y="103">25.00%</text><text x="479" y="103">25.00%</text><text x="719" y="103">25.00%</text><text x="959" y="103">25.00%</text></g>
</g>

<g id="row32" transform="translate(31,4576)">
<g transform="translate(.5,.5)"><use href="#grid4"/>
<use href="#S12" class="g"/><use href="#S" class="g" x="240"/><use href="#S" class="g" x="480"/><use href="#S" class="g" x="720"/></g>
<rect class="pk" x="210" width="5" height="62"/>
<rect class="act" x="215" width="745" height="62"/>
<g class="tp"><text x="0" y="-20">♩=106</text><text x="240" y="-20">♩=106</text><text x="480" y="-20">♩=106</text><text x="720" y="-20">♩=106</text></g>
<g class="mn"><text x="0" y="-7">125</text><text x="240" y="-7">126</text><text x="480" y="-7">127</text><text x="720" y="-7">128</text></g>
<g class="s1"><text x="239" y="77">300</text><text x="479" y="77">275</text><text x="719" y="77">275</text><text x="959" y="77">275</text></g>
<g class="s2"><text x="239" y="90">241025</text><text x="479" y="90">244325</text><text x="719" y="90">247625</text><text x="959" y="90">250925</text></g>
<g class="s3"><text x="239" y="103">23.74%</text><text x="479" y="103">11.24%</text><text x="719" y="103">0.00%</text><text x="959" y="103">0.00%</text></g>
</g>

<g id="row33" transform="translate(31,4717)">
<g transform="translate(.5,.5)"><use href="#grid1"/>
<g class="g"><circle r="5"/><circle cx="30" r="5"/><circle cx="60" r="5"/><circle cx="90" r="5"/><circle cx="105" r="5"/><circle cx="120" r="5"/><circle cx="135" r="5"/><circle cx="150" r="5"/><circle cx="165" r="5"/><circle cx="180" r="5"/><circle cx="195" r="5"/><circle cx="210" r="5"/><circle cx="225" r="5"/></g></g>
<rect class="act" width="215" height="62"/>
<rect class="pk" x="215" width="10" height="62"/>
<g class="mn"><text x="0" y="-7">129</text></g>
<g class="s1"><text x="239" y="77">325</text></g>
<g class="s2"><text x="239" y="90">254825</text></g>
<g class="s3"><text x="239" y="103">0.00%</text></g>
</g>
</svg>
